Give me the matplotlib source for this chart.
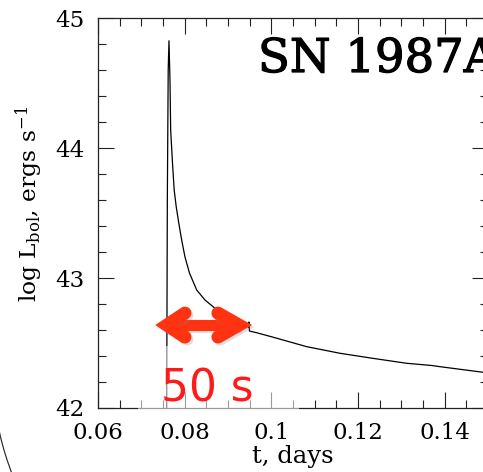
import numpy as np
import matplotlib
matplotlib.use("Agg")
import matplotlib.pyplot as plt
from matplotlib.patches import Arc, Rectangle
import matplotlib.patheffects as pe

# Bolometric light curve of SN 1987A around shock breakout
t_days = [0.07585, 0.07600, 0.07620, 0.07638, 0.07661, 0.07677, 0.07719, 0.07758,
          0.07806, 0.07864, 0.07931, 0.08007, 0.08111, 0.08277, 0.08468, 0.08699,
          0.08930, 0.09183, 0.09414, 0.09472, 0.09483, 0.09495, 0.09661, 0.10037,
          0.10814, 0.11583, 0.12344, 0.13121, 0.13700, 0.13889, 0.14882, 0.15000]
log_lbol = [42.00, 43.60, 44.60, 44.825, 44.523, 44.138, 43.885, 43.677,
            43.546, 43.423, 43.292, 43.162, 43.038, 42.908, 42.831, 42.767,
            42.731, 42.692, 42.646, 42.623, 42.662, 42.592, 42.579, 42.545,
            42.472, 42.421, 42.382, 42.344, 42.327, 42.318, 42.275, 42.270]

x_ticks = [0.06, 0.08, 0.10, 0.12, 0.14]
x_tick_labels = ["0.06", "0.08", "0.1", "0.12", "0.14"]
y_ticks = [42, 43, 44, 45]
y_tick_labels = ["42", "43", "44", "45"]

W, H = 483, 472
fig = plt.figure(figsize=(W / 100, H / 100), dpi=100)
ax = fig.add_axes([98 / W, 1 - 408 / H, 390 / W, 390 / H])

ink = "#222222"
ax.plot(t_days, log_lbol, color="black", lw=0.9, solid_joinstyle="round")

ax.set_xlim(0.06, 0.15)
ax.set_ylim(42, 45)
ax.set_xticks(x_ticks)
ax.set_xticklabels(x_tick_labels)
ax.set_yticks(y_ticks)
ax.set_yticklabels(y_tick_labels)
ax.set_xticks(np.arange(0.06, 0.1501, 0.005), minor=True)
ax.set_yticks(np.arange(42, 45.01, 0.2), minor=True)

serif = "DejaVu Serif"
ax.tick_params(which="both", direction="in", top=True, right=True, color=ink,
               width=0.8)
ax.tick_params(which="major", length=11.5, labelsize=16.5, pad=10)
ax.tick_params(which="minor", length=5.8)
for lab in ax.get_xticklabels() + ax.get_yticklabels():
    lab.set_family(serif)
for s in ax.spines.values():
    s.set_color(ink)
    s.set_linewidth(0.9)

plt.rcParams["mathtext.fontset"] = "dejavuserif"
fig.text(29 / W, 1 - 204 / H, r"log L$_{\rm bol}$, ergs s$^{-1}$", rotation=90,
         ha="center", va="center", fontsize=16.8, family=serif)
fig.text(293 / W, 1 - 456 / H, "t, days", ha="center", va="center",
         fontsize=17.5, family=serif)

fig.text(258 / W, 1 - 72 / H, "SN 1987A", ha="left", va="baseline",
         fontsize=33.5, family=serif,
         path_effects=[pe.withStroke(linewidth=0.9, foreground="black")])

# Double-headed arrow marking the 50 s interval
red = "#ff3311"
y0 = 42.638
x_l, x_r = 0.07592, 0.09253
cap_l, cap_r = 0.08007, 0.08768
dy = 0.092
shadow = [pe.SimpleLineShadow(offset=(1.5, -1.5), alpha=0.25, shadow_color="gray"),
          pe.Normal()]
ax.plot([x_l, x_r], [y0, y0], color=red, lw=8.0, solid_capstyle="butt",
        clip_on=False, zorder=5, path_effects=shadow)
for xv, xc in [(x_l, cap_l), (x_r, cap_r)]:
    ax.plot([xc, xv, xc], [y0 + dy, y0, y0 - dy], color=red, lw=9.4,
            solid_capstyle="round", solid_joinstyle="miter", clip_on=False,
            zorder=5, path_effects=shadow)

fig.add_artist(Rectangle((138 / W, 1 - 413 / H), 161 / W, 67 / H,
                         transform=fig.transFigure, facecolor="white",
                         alpha=0.55, edgecolor="none", zorder=5))
fig.text(161 / W, 1 - 402 / H, "50 s", ha="left", va="baseline",
         fontsize=31.5, color="#ff1a1a", family="DejaVu Sans", zorder=6)

# Outline sweeping past the lower left corner
fig.add_artist(Arc((292 / W, 1 - 366 / H), 600 / W, 600 / H, theta1=180,
                   theta2=215, transform=fig.transFigure, color="#333333",
                   lw=0.9, zorder=6))

fig.savefig("out.png", dpi=100)
